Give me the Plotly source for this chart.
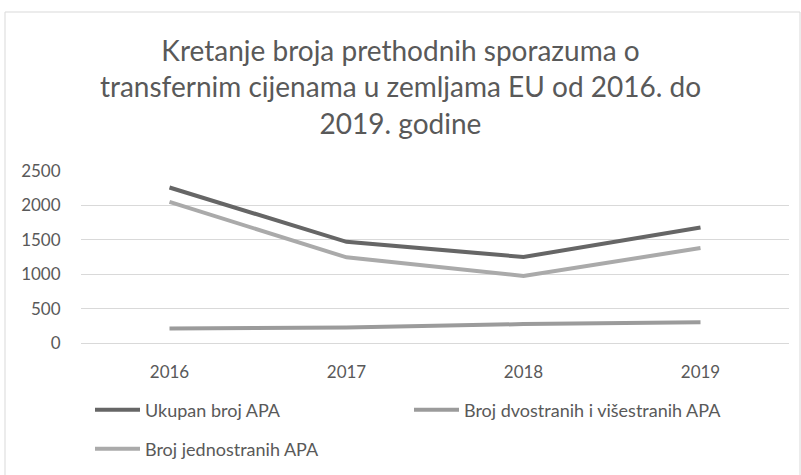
import plotly.graph_objects as go

years = ["2016", "2017", "2018", "2019"]
ukupan = [2260, 1470, 1250, 1680]
dvostrani = [210, 225, 275, 300]
jednostrani = [2050, 1245, 975, 1380]

names = ["Ukupan broj APA", "Broj dvostranih i višestranih APA", "Broj jednostranih APA"]
colors = ["#666666", "#9b9b9b", "#aaaaaa"]

FONT = "Lato, Open Sans, sans-serif"
GRAY = "#595959"

fig = go.Figure()
fig.add_trace(go.Scatter(x=years, y=ukupan, name=names[0], mode="lines",
                         line=dict(color=colors[0], width=4), legend="legend"))
fig.add_trace(go.Scatter(x=years, y=dvostrani, name=names[1], mode="lines",
                         line=dict(color=colors[1], width=4), legend="legend"))
fig.add_trace(go.Scatter(x=years, y=jednostrani, name=names[2], mode="lines",
                         line=dict(color=colors[2], width=4), legend="legend2"))

L, R, T, B = 81, 12, 171, 132
W, H = 801, 475
pw, ph = W - L - R, H - T - B

fig.update_layout(
    width=W, height=H,
    margin=dict(l=L, r=R, t=T, b=B, autoexpand=False),
    paper_bgcolor="white", plot_bgcolor="white",
    font=dict(family=FONT, color=GRAY, size=17),
    title=dict(text="Kretanje broja prethodnih sporazuma o<br>transfernim cijenama u zemljama EU od 2016. do<br>2019. godine",
               x=0.5, xanchor="center", y=1 - 61 / H, yanchor="top", yref="container",
               font=dict(size=28, color=GRAY, family=FONT)),
    xaxis=dict(range=[-0.5, 3.5], showgrid=False, showline=True, linecolor="#d9d9d9", linewidth=1,
               ticks="outside", ticklen=14, tickcolor="rgba(0,0,0,0)",
               tickfont=dict(size=17, color=GRAY), fixedrange=True),
    yaxis=dict(range=[0, 2500], tickvals=[0, 500, 1000, 1500, 2000, 2500],
               showgrid=True, gridcolor="#d9d9d9", gridwidth=1, zeroline=False,
               ticks="outside", ticklen=16, tickcolor="rgba(0,0,0,0)",
               tickfont=dict(size=17, color=GRAY), fixedrange=True),
    legend=dict(orientation="h", xref="container", yref="container",
                x=90 / W, xanchor="left", y=1 - 410 / H, yanchor="middle",
                entrywidth=259, entrywidthmode="pixels", itemwidth=45,
                font=dict(size=18, color=GRAY), bgcolor="rgba(0,0,0,0)"),
    legend2=dict(orientation="h", xref="container", yref="container",
                 x=90 / W, xanchor="left", y=1 - 449 / H, yanchor="middle", itemwidth=45,
                 font=dict(size=18, color=GRAY), bgcolor="rgba(0,0,0,0)"),
    showlegend=True,
    shapes=[dict(type="rect", xref="paper", yref="paper",
                 x0=(5 - L) / pw, x1=(800 - L) / pw,
                 y0=(343 - 476) / ph, y1=(343 - 12) / ph,
                 line=dict(color="#d9d9d9", width=1), fillcolor="rgba(0,0,0,0)", layer="below")],
)

fig.write_html("out.html")
